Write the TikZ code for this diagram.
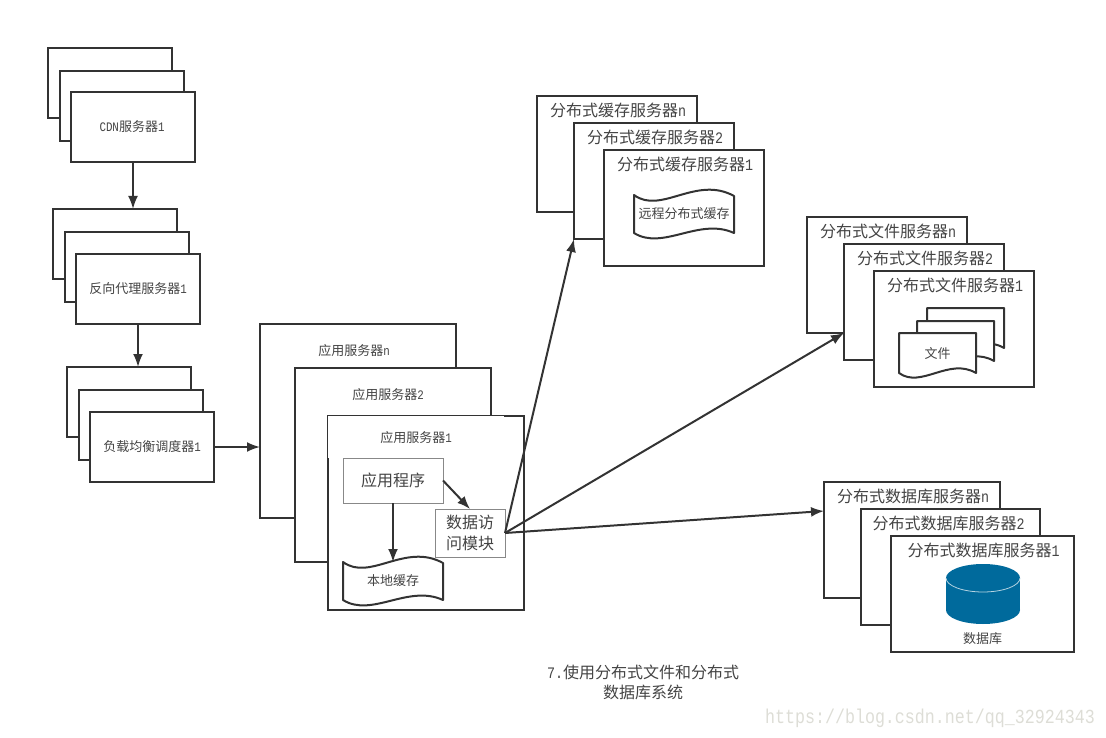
\documentclass[tikz,border=0pt]{standalone}
\usepackage{fontspec}
\usepackage{tikz}
\usetikzlibrary{arrows.meta, positioning}
\newfontfamily\cjk{Noto Sans CJK SC}
\newfontfamily\lat[FakeStretch=0.833]{Liberation Mono}
\definecolor{inkline}{HTML}{333333}
\definecolor{inktext}{HTML}{444444}
\definecolor{dbblue}{HTML}{006A9C}
\definecolor{dbedge}{HTML}{B5D3E2}
\definecolor{wmgray}{HTML}{DDDDD6}
\definecolor{modgray}{HTML}{888888}
\tikzset{
	box/.style={draw=inkline, line width=2pt, fill=white, rectangle, anchor=north west, outer sep=0pt, inner sep=0pt},
	smallsrv/.style={box, minimum width=124pt, minimum height=70pt},
	appsrv/.style={box, minimum width=196pt, minimum height=194pt},
	bigsrv/.style={box, minimum width=160pt, minimum height=116pt},
	dbsrv/.style={box, minimum height=116pt},
	modbox/.style={draw=modgray, line width=1pt, fill=white, rectangle, anchor=north west, outer sep=0pt, inner sep=0pt, align=center, text=inktext, font=\fontsize{16pt}{21pt}\selectfont\cjk},
	smalltxt/.style={text=inktext, inner sep=0pt, font=\fontsize{13pt}{16pt}\selectfont\cjk},
	bigtxt/.style={text=inktext, inner sep=0pt, align=center, font=\fontsize{16pt}{20pt}\selectfont\cjk},
	docspot/.style={anchor=north west, inner sep=0pt, outer sep=0pt, minimum width=100pt, minimum height=44pt},
	filespot/.style={anchor=north west, inner sep=0pt, outer sep=0pt, minimum width=77pt, minimum height=45pt},
	docline/.style={draw=inkline, line width=2pt, fill=white, line join=round},
	flow/.style={-{Latex[length=13pt, width=10pt]}, draw=inkline, line width=2pt},
}
% wave on both sides
\newcommand{\wavedoc}[1]{
	\begin{scope}[shift={(#1.north west)}]
		\draw[docline] (0,0) .. controls (27,20) and (62,-20) .. (100,1) -- (100,38) .. controls (65,22) and (29,56) .. (0,38) -- cycle;
	\end{scope}
}
% flat top, wave below
\newcommand{\filedoc}[1]{
	\begin{scope}[shift={(#1.north west)}]
		\draw[docline] (0,0) -- (77,0) -- (77,40) .. controls (50,24) and (22,56) .. (0,40) -- cycle;
	\end{scope}
}
\begin{document}
\begin{tikzpicture}[x=1pt, y=-1pt]
		\useasboundingbox (0,0) rectangle (1106,738);
		
		% CDN
		\node[smallsrv] (cdnn) at (48,48) {};
		\node[smallsrv] (cdn2) at (60,71) {};
		\node[smallsrv] (cdn1) at (71,92) {};
		\node[smalltxt] (cdn1txt) at ([xshift=-1pt]cdn1.center) {{\lat CDN}服务器{\lat 1}};
		
		% Proxy
		\node[smallsrv] (proxyn) at (53,209) {};
		\node[smallsrv] (proxy2) at (65,232) {};
		\node[smallsrv] (proxy1) at (76,254) {};
		\node[smalltxt] (proxy1txt) at (proxy1.center) {反向代理服务器{\lat 1}};
		
		% Load balancer
		\node[smallsrv] (lbn) at (67,367) {};
		\node[smallsrv] (lb2) at (79,390) {};
		\node[smallsrv] (lb1) at (90,412) {};
		\node[smalltxt] (lb1txt) at (lb1.center) {负载均衡调度器{\lat 1}};
		
		% App servers
		\node[appsrv] (appn) at (260,324) {};
		\node[smalltxt] (appntxt) at ([xshift=-4pt, yshift=-27pt]appn.north) {应用服务器{\lat n}};
		\node[appsrv] (app2) at (295,368) {};
		\node[smalltxt] (app2txt) at ([xshift=-5pt, yshift=-27pt]app2.north) {应用服务器{\lat 2}};
		\node[appsrv] (app1) at (328,416) {};
		\node[smalltxt, fill=white, anchor=north west, minimum width=176pt, minimum height=42pt] (app1txt) at (app1.north west) {应用服务器{\lat 1}};
		\node[modbox, minimum width=100pt, minimum height=45pt] (appprog) at (343,458) {应用程序};
		\node[modbox, minimum width=70pt, minimum height=48pt] (datamod) at (435,509) {数据访\\问模块};
		\node[docspot] (localcache) at (343,562) {};
		\wavedoc{localcache}
		\node[smalltxt] (localtxt) at ([yshift=3pt]localcache.center) {本地缓存};
		
		% Cache servers
		\node[bigsrv] (cachen) at (537,96) {};
		\node[bigtxt] (cachentxt) at ([xshift=1pt, yshift=-14pt]cachen.north) {分布式缓存服务器{\lat n}};
		\node[bigsrv] (cache2) at (574,123) {};
		\node[bigtxt] (cache2txt) at ([xshift=1pt, yshift=-14pt]cache2.north) {分布式缓存服务器{\lat 2}};
		\node[bigsrv] (cache1) at (604,150) {};
		\node[bigtxt] (cache1txt) at ([xshift=1pt, yshift=-14pt]cache1.north) {分布式缓存服务器{\lat 1}};
		\node[docspot] (remotecache) at (634,195) {};
		\wavedoc{remotecache}
		\node[smalltxt] (remotetxt) at ([yshift=3pt]remotecache.center) {远程分布式缓存};
		
		% File servers
		\node[bigsrv] (filen) at (807,217) {};
		\node[bigtxt] (filentxt) at ([xshift=1pt, yshift=-14pt]filen.north) {分布式文件服务器{\lat n}};
		\node[bigsrv] (file2) at (844,244) {};
		\node[bigtxt] (file2txt) at ([xshift=1pt, yshift=-14pt]file2.north) {分布式文件服务器{\lat 2}};
		\node[bigsrv] (file1) at (874,271) {};
		\node[bigtxt] (file1txt) at ([xshift=1pt, yshift=-14pt]file1.north) {分布式文件服务器{\lat 1}};
		\node[filespot] (docc) at (927,308) {};
		\filedoc{docc}
		\node[filespot] (docb) at (917,321) {};
		\filedoc{docb}
		\node[filespot] (doca) at (899,333) {};
		\filedoc{doca}
		\node[smalltxt] (docatxt) at ([yshift=2pt]doca.center) {文件};
		
		% Database servers
		\node[dbsrv, minimum width=176pt] (dbn) at (824,482) {};
		\node[bigtxt] (dbntxt) at ([xshift=1pt, yshift=-14pt]dbn.north) {分布式数据库服务器{\lat n}};
		\node[dbsrv, minimum width=179pt] (db2) at (861,509) {};
		\node[bigtxt] (db2txt) at ([xshift=-2pt, yshift=-14pt]db2.north) {分布式数据库服务器{\lat 2}};
		\node[dbsrv, minimum width=183pt] (db1) at (891,536) {};
		\node[bigtxt] (db1txt) at ([xshift=1pt, yshift=-14pt]db1.north) {分布式数据库服务器{\lat 1}};
		\fill[dbblue] (983,610) ellipse [x radius=37, y radius=14];
		\fill[dbblue] (946,578) rectangle (1020,610);
		\fill[dbblue] (983,578) ellipse [x radius=37, y radius=14];
		\draw[dbedge, line width=.8pt] (946,578) arc [start angle=180, end angle=0, x radius=37, y radius=14];
		\node[smalltxt] (dbtxt) at (982.5,639) {数据库};
		
		% Arrows
		\draw[flow] (cdn1.south) -- (cdn1.south |- proxyn.north);
		\draw[flow] (proxy1.south) -- (proxy1.south |- lbn.north);
		\draw[flow] (lb1.east) -- (lb1.east -| appn.west);
		\draw[flow] (appprog.south) -- (localcache.north);
		\draw[flow] (appprog.east) -- (datamod.north);
		\draw[flow] (datamod.east) -- (cache2.south west);
		\draw[flow] (datamod.east) -- (file2.west |- filen.south);
		\draw[flow] (datamod.east) -- ([yshift=-29pt]dbn.north west);
		
		% Texts
		\node[bigtxt] (caption) at (643,682) {{\lat 7.}使用分布式文件和分布式\\数据库系统};
		\node[inner sep=0pt, text=wmgray, font=\fontsize{20pt}{22pt}\selectfont\lat] (wmtext) at (930,718) {https://blog.csdn.net/qq\_32924343};
		
\end{tikzpicture}
\end{document}
